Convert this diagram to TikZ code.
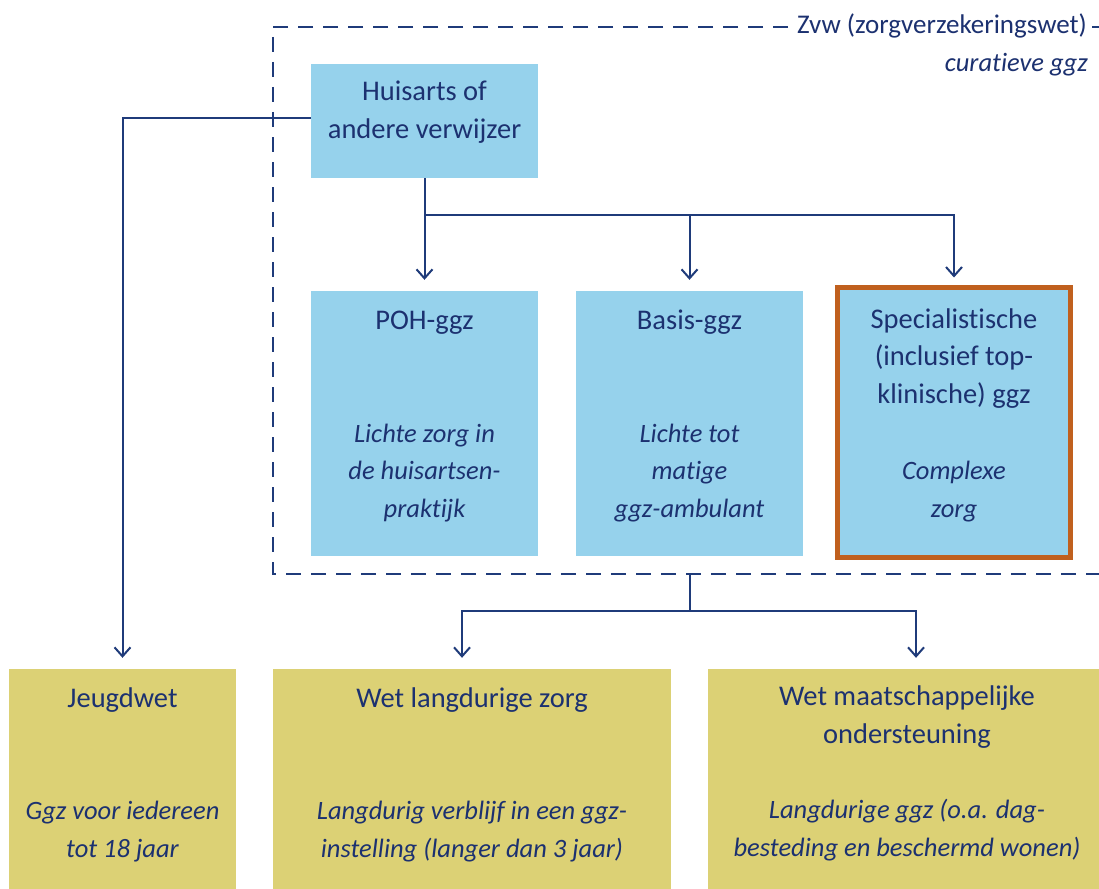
\documentclass[tikz,border=0pt]{standalone}
\usepackage{fontspec}
\setmainfont{Carlito}[Ligatures=NoCommon]
\usetikzlibrary{arrows.meta}
\definecolor{navy}{HTML}{1C3170}
\definecolor{lineblue}{HTML}{1F3B7A}
\definecolor{lightblue}{HTML}{96D2EC}
\definecolor{olive}{HTML}{DCD175}
\definecolor{rust}{HTML}{C0601E}
\tikzset{
  bluebox/.style={fill=lightblue, draw=none, rectangle, inner sep=0pt},
  olivebox/.style={fill=olive, draw=none, rectangle, inner sep=0pt},
  txt/.style={text=navy, align=center, inner sep=0pt, anchor=base, font=\fontsize{28.5}{37.5}\selectfont},
  itxt/.style={txt, font=\fontsize{26.5}{37.5}\selectfont\itshape},
  conn/.style={draw=lineblue, line width=2pt},
  arr/.style={conn, -{Straight Barb[length=9pt,width=16pt,line width=2pt]}},
  frame/.style={draw=lineblue, line width=2pt, dash pattern=on 15pt off 10pt}
}
\begin{document}
\begin{tikzpicture}[x=1pt,y=-1pt]
\useasboundingbox (0,0) rectangle (1099,888);
\clip (0,0) rectangle (1099,888);
\fill[white] (0,0) rectangle (1099,888);

% dashed frame
\draw[frame] (788,27) -- (273,27) -- (273,574) -- (1115,574);
\draw[frame, dash pattern=on 10pt off 10pt] (1092,27) -- (1115,27);
\node[txt, font=\fontsize{27}{37.5}\selectfont, anchor=base east] (zvw) at (1087,34) {Zvw (zorgverzekeringswet)};
\node[itxt, anchor=base east] (cur) at (1088,72) {curatieve ggz};

% boxes
\node[bluebox, minimum width=227pt, minimum height=114pt] (huis) at (424.5,121) {};
\node[bluebox, minimum width=227pt, minimum height=265pt] (poh) at (424.5,423.5) {};
\node[bluebox, minimum width=227pt, minimum height=265pt] (basis) at (689.5,423.5) {};
\node[bluebox, draw=rust, line width=5pt, minimum width=233pt, minimum height=270pt] (spec) at (954,422.5) {};
\node[olivebox, minimum width=227pt, minimum height=240pt] (jeugd) at (122.5,789) {};
\node[olivebox, minimum width=398pt, minimum height=240pt] (wlz) at (472,789) {};
\node[olivebox, minimum width=398pt, minimum height=240pt] (wmo) at (907,789) {};

% texts (base = baseline of the last line)
\node[txt] (huist) at (424.5,138) {Huisarts of\\andere verwijzer};
\node[txt] (poht) at (424.5,329) {POH-ggz};
\node[itxt] (pohd) at (424.5,517) {Lichte zorg in\\de huisartsen-\\praktijk};
\node[txt] (basist) at (689.5,329) {Basis-ggz};
\node[itxt] (basisd) at (689.5,517) {Lichte tot\\matige\\ggz-ambulant};
\node[txt] (spect) at (954,403) {Specialistische\\(inclusief top-\\klinische) ggz};
\node[itxt] (specd) at (954,517) {Complexe\\zorg};
\node[txt] (jeugdt) at (122.5,707) {Jeugdwet};
\node[itxt] (jeugdd) at (122.5,857) {Ggz voor iedereen\\tot 18 jaar};
\node[txt] (wlzt) at (472,707) {Wet langdurige zorg};
\node[itxt] (wlzd) at (472,857) {Langdurig verblijf in een ggz-\\instelling (langer dan 3 jaar)};
\node[txt] (wmot) at (907,743) {Wet maatschappelijke\\ondersteuning};
\node[itxt] (wmod) at (907,856) {Langdurige ggz (o.a. dag-\\besteding en beschermd wonen)};

% connectors
\coordinate (split) at (424.5,215);
\draw[conn] (huis.south) -- (split);
\draw[arr, shorten >=11pt] (split) -- (poh.north);
\draw[arr, shorten >=11pt] (split) -| (basis.north);
\draw[arr, shorten >=7.5pt] (split) -| (spec.north);
\draw[arr, shorten >=11pt] ([yshift=3pt]huis.west) -| (jeugd.north);

\coordinate (lowstart) at (689.5,574);
\coordinate (lowsplit) at (689.5,611);
\draw[conn] (lowstart) -- (lowsplit);
\draw[arr, shorten >=11pt] (lowsplit) -| ([xshift=-10pt]wlz.north);
\draw[arr, shorten >=11pt] (lowsplit) -| ([xshift=9pt]wmo.north);
\end{tikzpicture}
\end{document}
